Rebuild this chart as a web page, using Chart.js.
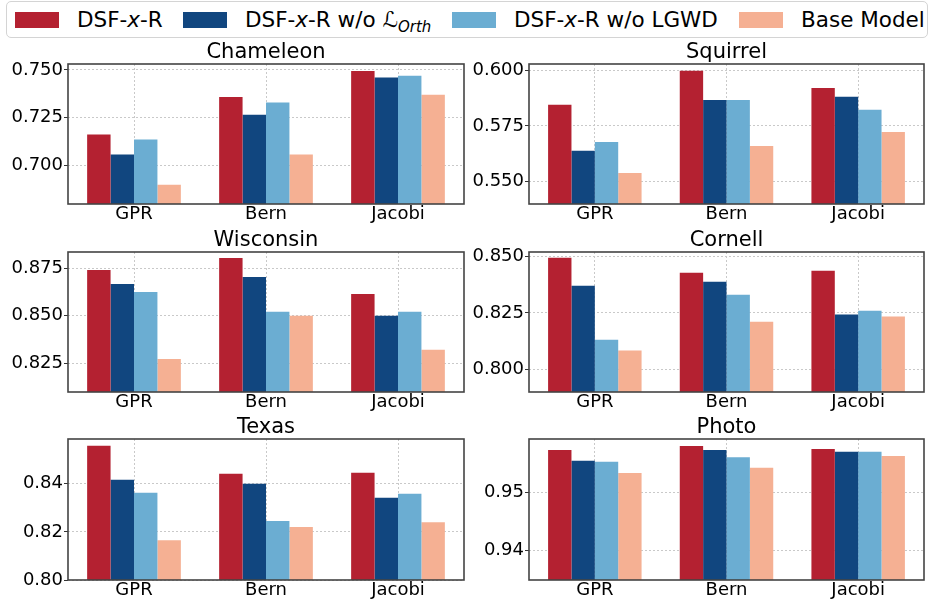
<!DOCTYPE html>
<html>
<head>
<meta charset="utf-8">
<script src="https://cdn.jsdelivr.net/npm/chart.js@4"></script>
<style>
  html, body { margin: 0; padding: 0; background: #fff; }
  body { width: 931px; height: 605px; position: relative; overflow: hidden; font-family: "DejaVu Sans", sans-serif; }
  #legend {
    position: absolute; left: 6px; top: 1px; width: 922px; height: 37px; box-sizing: border-box;
    border: 1px solid #d4d4d4; border-radius: 5px;
    font-size: 21.5px; color: #000; white-space: nowrap;
  }
  .item { position: absolute; top: 0; height: 35px; display: flex; align-items: center; }
  .swatch { width: 44px; height: 16px; margin-right: 18px; flex: none; }
  .cal { font-style: italic; }
  sub { font-size: 15px; font-style: italic; vertical-align: -5px; line-height: 0; }
  canvas { position: absolute; }
</style>
</head>
<body>
<div id="legend"></div>
<script>
// Filter bases along the x axis
const categories = ['GPR', 'Bern', 'Jacobi'];

// Series (legend order)
const seriesNames = ['DSF-x-R', 'DSF-x-R w/o L_Orth', 'DSF-x-R w/o LGWD', 'Base Model'];
const seriesLegendHtml = [
  'DSF-<i>x</i>-R',
  'DSF-<i>x</i>-R w/o <span class="cal">ℒ</span><sub>Orth</sub>',
  'DSF-<i>x</i>-R w/o LGWD',
  'Base Model'
];
const seriesColors = ['#b42131', '#11467f', '#6badd2', '#f5b093'];

// Accuracy per dataset: one array per series, values over GPR / Bern / Jacobi
const chameleonFull   = [0.7163, 0.7359, 0.7495];
const chameleonNoOrth = [0.7059, 0.7266, 0.7460];
const chameleonNoLGWD = [0.7137, 0.7330, 0.7470];
const chameleonBase   = [0.6901, 0.7059, 0.7371];

const squirrelFull   = [0.5844, 0.5997, 0.5920];
const squirrelNoOrth = [0.5638, 0.5866, 0.5880];
const squirrelNoLGWD = [0.5678, 0.5866, 0.5822];
const squirrelBase   = [0.5539, 0.5660, 0.5723];

const wisconsinFull   = [0.8741, 0.8804, 0.8615];
const wisconsinNoOrth = [0.8667, 0.8704, 0.8500];
const wisconsinNoLGWD = [0.8625, 0.8521, 0.8521];
const wisconsinBase   = [0.8273, 0.8500, 0.8321];

const cornellFull   = [0.8496, 0.8429, 0.8438];
const cornellNoOrth = [0.8371, 0.8389, 0.8243];
const cornellNoLGWD = [0.8131, 0.8331, 0.8260];
const cornellBase   = [0.8083, 0.8211, 0.8234];

const texasFull   = [0.8558, 0.8442, 0.8446];
const texasNoOrth = [0.8417, 0.8400, 0.8342];
const texasNoLGWD = [0.8363, 0.8245, 0.8358];
const texasBase   = [0.8165, 0.8220, 0.8240];

const photoFull   = [0.9572, 0.9579, 0.9574];
const photoNoOrth = [0.9554, 0.9572, 0.9569];
const photoNoLGWD = [0.9552, 0.9560, 0.9569];
const photoBase   = [0.9533, 0.9542, 0.9562];

// Y tick labels for each panel
const chameleonTicks = ['0.700', '0.725', '0.750'];
const squirrelTicks  = ['0.550', '0.575', '0.600'];
const wisconsinTicks = ['0.825', '0.850', '0.875'];
const cornellTicks   = ['0.800', '0.825', '0.850'];
const texasTicks     = ['0.80', '0.82', '0.84'];
const photoTicks     = ['0.94', '0.95'];

// Y axis limits for each panel [min, max]
const chameleonRange = [0.6800, 0.7531];
const squirrelRange  = [0.5400, 0.6027];
const wisconsinRange = [0.8099, 0.8836];
const cornellRange   = [0.7899, 0.8521];
const texasRange     = [0.8000, 0.8586];
const photoRange     = [0.9350, 0.9591];

const panels = [
  { title: 'Chameleon', row: 0, col: 0, series: [chameleonFull, chameleonNoOrth, chameleonNoLGWD, chameleonBase], ticks: chameleonTicks, range: chameleonRange },
  { title: 'Squirrel',  row: 0, col: 1, series: [squirrelFull, squirrelNoOrth, squirrelNoLGWD, squirrelBase],     ticks: squirrelTicks,  range: squirrelRange },
  { title: 'Wisconsin', row: 1, col: 0, series: [wisconsinFull, wisconsinNoOrth, wisconsinNoLGWD, wisconsinBase], ticks: wisconsinTicks, range: wisconsinRange },
  { title: 'Cornell',   row: 1, col: 1, series: [cornellFull, cornellNoOrth, cornellNoLGWD, cornellBase],         ticks: cornellTicks,   range: cornellRange },
  { title: 'Texas',     row: 2, col: 0, series: [texasFull, texasNoOrth, texasNoLGWD, texasBase],                 ticks: texasTicks,     range: texasRange },
  { title: 'Photo',     row: 2, col: 1, series: [photoFull, photoNoOrth, photoNoLGWD, photoBase],                 ticks: photoTicks,     range: photoRange }
];

// Legend entries, laid out left to right inside the frame
const legendItemLeft = [8, 176, 445, 732];
const legendEl = document.getElementById('legend');
seriesLegendHtml.forEach((html, i) => {
  const item = document.createElement('div');
  item.className = 'item';
  item.style.left = legendItemLeft[i] + 'px';
  item.innerHTML = '<span class="swatch" style="background:' + seriesColors[i] + '"></span><span>' + html + '</span>';
  legendEl.appendChild(item);
});

// Grid geometry (page pixels)
const grid = {
  canvasLeft: [0, 466],
  canvasWidth: [470, 465],
  plotLeft: [68, 529],
  plotRight: [464, 924],
  plotTop: [64, 252, 439],
  plotBottom: [204, 392, 580],
  titleBlock: 28,
  xAxisHeight: 25
};

const FONT = 'DejaVu Sans';
const GRID_COLOR = '#c9c9c9';

// Closed box around each plot area
const framePlugin = {
  id: 'frame',
  afterDraw(chart) {
    const { ctx, chartArea: a } = chart;
    ctx.save();
    ctx.strokeStyle = '#444444';
    ctx.lineWidth = 1.6;
    ctx.strokeRect(a.left, a.top, a.right - a.left, a.bottom - a.top);
    ctx.restore();
  }
};

panels.forEach(p => {
  const left = grid.canvasLeft[p.col];
  const width = grid.canvasWidth[p.col];
  const top = grid.plotTop[p.row] - grid.titleBlock;
  const height = grid.plotBottom[p.row] + grid.xAxisHeight - top;
  const yAxisWidth = grid.plotLeft[p.col] - left;
  const padRight = left + width - grid.plotRight[p.col];

  const canvas = document.createElement('canvas');
  canvas.width = width;
  canvas.height = height;
  canvas.style.left = left + 'px';
  canvas.style.top = top + 'px';
  canvas.style.width = width + 'px';
  canvas.style.height = height + 'px';
  document.body.appendChild(canvas);

  const tickValues = p.ticks.map(Number);
  const decimals = p.ticks[0].split('.')[1].length;

  new Chart(canvas, {
    type: 'bar',
    data: {
      labels: categories,
      datasets: p.series.map((values, i) => ({
        label: seriesNames[i],
        data: values,
        backgroundColor: seriesColors[i],
        borderWidth: 0,
        categoryPercentage: 0.71,
        barPercentage: 1.0
      }))
    },
    options: {
      responsive: false,
      animation: false,
      devicePixelRatio: 1,
      layout: { padding: { left: 0, right: padRight, top: 0, bottom: 0 } },
      plugins: {
        legend: { display: false },
        tooltip: { enabled: false },
        title: {
          display: true,
          text: p.title,
          fullSize: false,
          color: '#000',
          font: { family: FONT, size: 21, weight: 'normal', lineHeight: 1 },
          padding: { top: 6, bottom: 1 }
        }
      },
      scales: {
        x: {
          grid: { offset: false, color: GRID_COLOR, lineWidth: 1, drawTicks: false },
          border: { display: false, dash: [2, 2] },
          ticks: { color: '#000', padding: 1, font: { family: FONT, size: 18, lineHeight: 1 } },
          afterFit(scale) { scale.height = grid.xAxisHeight; }
        },
        y: {
          min: p.range[0],
          max: p.range[1],
          grid: { color: GRID_COLOR, lineWidth: 1, tickColor: '#333', tickLength: 4 },
          border: { display: false, dash: [2, 2] },
          ticks: {
            color: '#000',
            padding: 1,
            font: { family: FONT, size: 18, lineHeight: 1 },
            callback: v => Number(v).toFixed(decimals)
          },
          afterBuildTicks(scale) { scale.ticks = tickValues.map(v => ({ value: v })); },
          afterFit(scale) { scale.width = yAxisWidth; }
        }
      }
    },
    plugins: [framePlugin]
  });
});
</script>
</body>
</html>
